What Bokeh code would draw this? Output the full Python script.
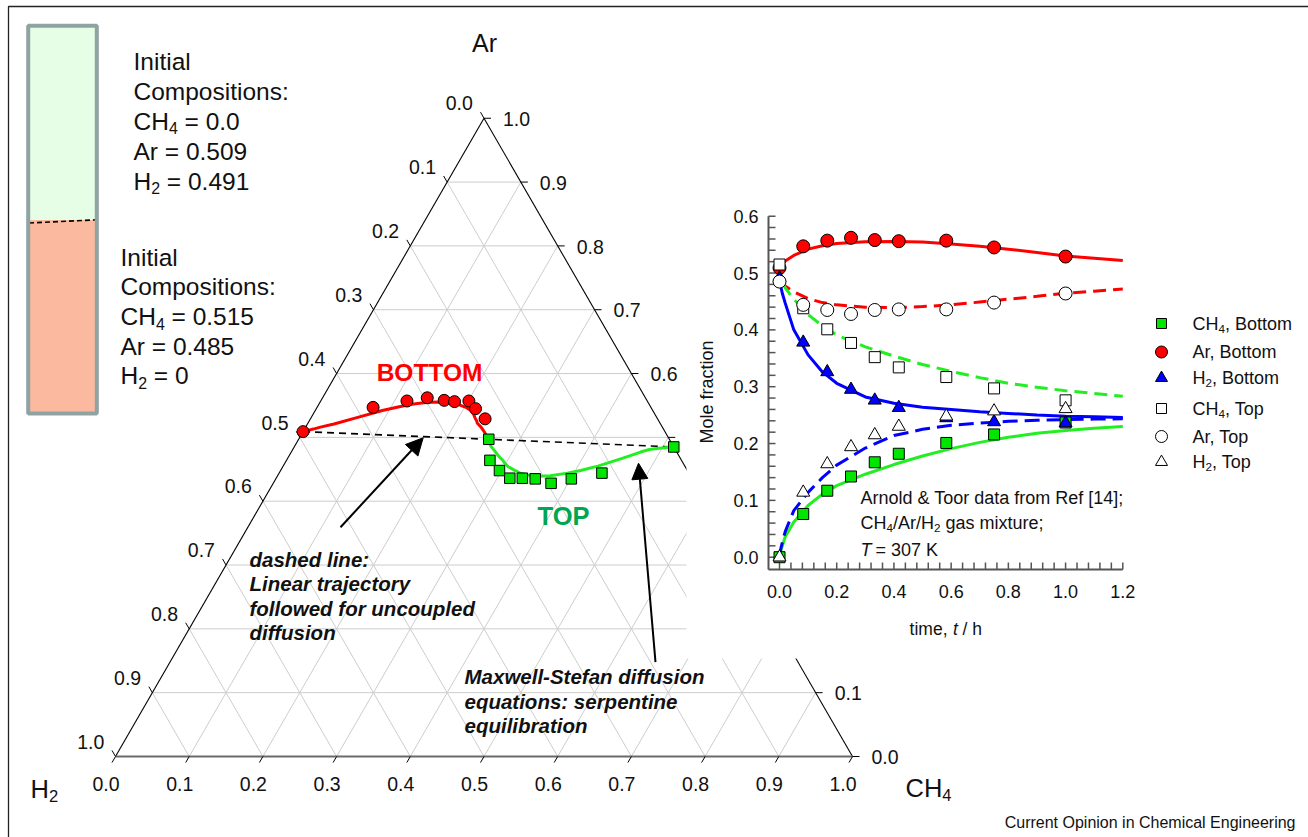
import numpy as np
from bokeh.plotting import figure
from bokeh.models import Range1d, Arrow, NormalHead
from bokeh.core.properties import value
from bokeh.embed import file_html
from bokeh.resources import INLINE

# ---------------- data ----------------
# measured compositions (inset markers; the same points are drawn in the ternary diagram)
T_DATA = [0.0, 0.083, 0.167, 0.25, 0.333, 0.417, 0.583, 0.75, 1.0]
CH4_BOTTOM = [0.0, 0.076, 0.117, 0.142, 0.167, 0.182, 0.201, 0.216, 0.237]
AR_BOTTOM = [0.509, 0.547, 0.557, 0.562, 0.558, 0.556, 0.557, 0.545, 0.529]
H2_BOTTOM = [0.491, 0.378, 0.326, 0.295, 0.276, 0.263, 0.245, 0.238, 0.236]
CH4_TOP = [0.515, 0.438, 0.401, 0.377, 0.352, 0.334, 0.317, 0.297, 0.276]
AR_TOP = [0.485, 0.444, 0.435, 0.428, 0.435, 0.436, 0.436, 0.448, 0.464]
H2_TOP = [0.0, 0.114, 0.164, 0.194, 0.215, 0.230, 0.248, 0.257, 0.261]

# Maxwell-Stefan model curves
T_MODEL = [0.0, 0.005, 0.01, 0.02, 0.05, 0.1, 0.15, 0.2, 0.3, 0.4, 0.5, 0.6, 0.7, 0.8, 0.9, 1.0, 1.1, 1.2]
CH4_BOTTOM_MODEL = [0.0, 0.012, 0.020, 0.036, 0.062, 0.091, 0.111, 0.126, 0.146, 0.163, 0.178, 0.191, 0.202, 0.211, 0.218, 0.223, 0.227, 0.230]
AR_BOTTOM_MODEL = [0.509, 0.513, 0.516, 0.521, 0.531, 0.542, 0.548, 0.552, 0.555, 0.5555, 0.5545, 0.551, 0.547, 0.542, 0.536, 0.530, 0.526, 0.522]
H2_BOTTOM_MODEL = [0.491, 0.475, 0.464, 0.447, 0.400, 0.356, 0.326, 0.306, 0.282, 0.271, 0.264, 0.260, 0.256, 0.253, 0.250, 0.248, 0.247, 0.246]
CH4_TOP_MODEL = [0.515, 0.496, 0.484, 0.474, 0.454, 0.427, 0.407, 0.391, 0.370, 0.354, 0.339, 0.327, 0.316, 0.306, 0.299, 0.293, 0.288, 0.283]
AR_TOP_MODEL = [0.485, 0.483, 0.481, 0.477, 0.467, 0.455, 0.448, 0.444, 0.440, 0.439, 0.441, 0.444, 0.449, 0.454, 0.459, 0.4645, 0.468, 0.472]
H2_TOP_MODEL = [0.0, 0.016, 0.026, 0.045, 0.082, 0.114, 0.140, 0.162, 0.192, 0.214, 0.225, 0.232, 0.236, 0.239, 0.241, 0.242, 0.243, 0.2435]

# long-time ends of the ternary trajectories, and the final equilibrium composition
BOTTOM_TAIL_CH4 = [0.238, 0.2465, 0.2525, 0.258]
BOTTOM_TAIL_AR = [0.516, 0.5083, 0.502, 0.497]
TOP_TAIL_CH4 = [0.276, 0.2666, 0.2615, 0.258]
TOP_TAIL_AR = [0.478, 0.4859, 0.492, 0.497]
EQ_CH4 = 0.258
EQ_AR = 0.497

TERN_TICKS = [0.0, 0.1, 0.2, 0.3, 0.4, 0.5, 0.6, 0.7, 0.8, 0.9, 1.0]
TERN_TICK_LABELS = ["0.0", "0.1", "0.2", "0.3", "0.4", "0.5", "0.6", "0.7", "0.8", "0.9", "1.0"]
INSET_X_TICKS = [0.0, 0.2, 0.4, 0.6, 0.8, 1.0, 1.2]
INSET_X_LABELS = ["0.0", "0.2", "0.4", "0.6", "0.8", "1.0", "1.2"]
INSET_Y_TICKS = [0.0, 0.1, 0.2, 0.3, 0.4, 0.5, 0.6]
INSET_Y_LABELS = ["0.0", "0.1", "0.2", "0.3", "0.4", "0.5", "0.6"]
# "_x" marks a subscript character
LEGEND_LABELS = ["CH_4, Bottom", "Ar, Bottom", "H_2, Bottom", "CH_4, Top", "Ar, Top", "H_2, Top"]
LEFT_TOP_LINES = ["Initial", "Compositions:", "CH_4 = 0.0", "Ar = 0.509", "H_2 = 0.491"]
LEFT_BOTTOM_LINES = ["Initial", "Compositions:", "CH_4 = 0.515", "Ar = 0.485", "H_2 = 0"]
VERTEX_LABELS = ["H_2", "Ar", "CH_4"]
NOTE_DASHED = ["dashed line:", "Linear trajectory", "followed for uncoupled", "diffusion"]
NOTE_MS = ["Maxwell-Stefan diffusion", "equations: serpentine", "equilibration"]
INSET_NOTE = ["Arnold & Toor data from Ref [14];", "CH_4/Ar/H_2 gas mixture;"]

# ---------------- geometry / styles ----------------
W, H = 1308, 837
TX0, TY0, TS = 115.0, 756.0, 737.0        # ternary H2 corner (px) and side length
IX0, ISX = 779.0, 286.08                   # inset: px of t=0, px per hour
IY0, ISY = 556.7, 568.33                   # inset: px of 0.0, px per unit
FONT = value("Liberation Sans")
RED, GREEN, BLUE = "#ff0000", "#00e600", "#0000ff"
INK = "#111111"
SQ3 = np.sqrt(3) / 2

# Arial / Liberation Sans advance widths (1/1000 em) for the rich-text helper
ADV = {" ": 278, ",": 278, ".": 278, "/": 278, ";": 278, ":": 278, "=": 584,
       "A": 667, "B": 667, "C": 722, "H": 722, "T": 611, "I": 278,
       "a": 556, "e": 556, "g": 556, "i": 222, "l": 222, "m": 833, "n": 556, "o": 556,
       "p": 556, "r": 333, "s": 500, "t": 278, "u": 556, "x": 500, "c": 500}
for d in "0123456789":
    ADV[d] = 556
SUB_SCALE, SUB_DROP = 0.65, 0.29


def tern(ch4, ar):
    ch4 = np.asarray(ch4, dtype=float)
    ar = np.asarray(ar, dtype=float)
    return ch4 + ar / 2.0, ar * SQ3


def split_sub(s):
    parts, buf, i = [], "", 0
    while i < len(s):
        if s[i] == "_" and i + 1 < len(s):
            if buf:
                parts.append((buf, False)); buf = ""
            parts.append((s[i + 1], True)); i += 2
        else:
            buf += s[i]; i += 1
    if buf:
        parts.append((buf, False))
    return parts


def width(s, size):
    return sum(ADV.get(ch, 556) for ch in s) * size / 1000.0


def rich_text(p, x, y, s, size, align="left", color=INK, **kw):
    parts = split_sub(s)
    if len(parts) == 1 and not parts[0][1]:
        p.text([x], [y], text=[s], text_font=FONT, text_font_size=f"{size}px", text_color=color,
               text_align=align, text_baseline="middle", **kw)
        return
    total = sum(width(t, size * SUB_SCALE if sub else size) for t, sub in parts)
    cx = x - (total if align == "right" else total / 2 if align == "center" else 0)
    for t, sub in parts:
        fs = size * SUB_SCALE if sub else size
        yy = y + SUB_DROP * size if sub else y
        lead = len(t) - len(t.lstrip(" "))
        cx += width(t[:lead], fs)          # leading blanks are dropped by SVG, so skip them
        body = t[lead:]
        if body:
            p.text([cx], [yy], text=[body], text_font=FONT, text_font_size=f"{fs:.2f}px", text_color=color,
                   text_align="left", text_baseline="middle", **kw)
        cx += width(body, fs)


p = figure(width=W, height=H, x_range=Range1d(0, W), y_range=Range1d(H, 0),
           output_backend="svg", toolbar_location=None, tools="",
           x_axis_type=None, y_axis_type=None, min_border=0)
p.outline_line_color = None
p.background_fill_color = "white"
p.border_fill_color = "white"
p.grid.visible = False
p.extra_x_ranges = {"tern": Range1d(-TX0 / TS, (W - TX0) / TS),
                    "ins": Range1d(-IX0 / ISX, (W - IX0) / ISX)}
p.extra_y_ranges = {"tern": Range1d(-(H - TY0) / TS, TY0 / TS),
                    "ins": Range1d(-(H - IY0) / ISY, IY0 / ISY)}
TR = dict(x_range_name="tern", y_range_name="tern")
IR = dict(x_range_name="ins", y_range_name="ins")

# ---------------- ternary diagram ----------------
levels = TERN_TICKS[1:-1]
gx, gy = [], []
for a in levels:                      # constant Ar
    x, y = tern([0, 1 - a], [a, a]); gx.append(list(x)); gy.append(list(y))
for c in levels:                      # constant CH4
    x, y = tern([c, c], [0, 1 - c]); gx.append(list(x)); gy.append(list(y))
for h in levels:                      # constant H2
    x, y = tern([0, 1 - h], [1 - h, 0]); gx.append(list(x)); gy.append(list(y))
p.multi_line(gx, gy, line_color="#cdcdcd", line_width=1, **TR)

x, y = tern([0, 0], [0, 1]); p.line(x, y, line_color="black", line_width=1.1, **TR)
x, y = tern([1, 0], [0, 1]); p.line(x, y, line_color="black", line_width=1.1, **TR)
x, y = tern([0, 1], [0, 0]); p.line(x, y, line_color="#6a6a6a", line_width=2, **TR)

L = 7.0 / TS
tk = np.asarray(TERN_TICKS)
lx, ly = tern(np.zeros_like(tk), 1 - tk)          # left edge: H2 values
rx, ry = tern(1 - tk, tk)                         # right edge: Ar values
bx, by = tern(tk, np.zeros_like(tk))              # bottom edge: CH4 values
p.segment(lx, ly, lx - 0.5 * L, ly + SQ3 * L, line_color="black", line_width=1, **TR)
p.segment(rx, ry, rx + L, ry, line_color="black", line_width=1, **TR)
p.segment(bx, by, bx - 0.5 * L, by - SQ3 * L, line_color="black", line_width=1, **TR)
tick_font = dict(text_font=FONT, text_font_size="19.5px", text_color=INK, text_baseline="middle")
p.text(lx - 24.7 / TS, ly + 14.8 / TS, text=TERN_TICK_LABELS, text_align="center", **tick_font, **TR)
p.text(rx + 19.0 / TS, ry - 0.7 / TS, text=TERN_TICK_LABELS, text_align="left", **tick_font, **TR)
p.text(bx - 9.5 / TS, by - 27.7 / TS, text=TERN_TICK_LABELS, text_align="center", **tick_font, **TR)

# straight (uncoupled) trajectory between the two initial compositions
x, y = tern([CH4_BOTTOM[0], CH4_TOP[0]], [AR_BOTTOM[0], AR_TOP[0]])
p.line(x, y, line_color="black", line_width=1.6, line_dash="7 5", **TR)

x, y = tern(CH4_BOTTOM_MODEL + BOTTOM_TAIL_CH4, AR_BOTTOM_MODEL + BOTTOM_TAIL_AR)
p.line(x, y, line_color=RED, line_width=3, **TR)
x, y = tern(CH4_TOP_MODEL + TOP_TAIL_CH4, AR_TOP_MODEL + TOP_TAIL_AR)
p.line(x, y, line_color="#22ee22", line_width=3, **TR)
x, y = tern(CH4_BOTTOM, AR_BOTTOM)
p.scatter(x, y, marker="circle", size=12, fill_color=RED, line_color="black", line_width=1, **TR)
x, y = tern(CH4_TOP + [EQ_CH4], AR_TOP + [EQ_AR])
p.scatter(x, y, marker="square", size=10.5, fill_color=GREEN, line_color="black", line_width=1, **TR)

p.text([429], [372], text=["BOTTOM"], text_font=FONT, text_font_size="24.5px", text_font_style="bold",
       text_color="#ff0000", text_align="center", text_baseline="middle")
p.text([563], [515], text=["TOP"], text_font=FONT, text_font_size="25.5px", text_font_style="bold",
       text_color="#00a651", text_align="center", text_baseline="middle")

rich_text(p, 30, 788, VERTEX_LABELS[0], 25.5)
rich_text(p, 484, 42, VERTEX_LABELS[1], 25, align="center")
rich_text(p, 905, 787, VERTEX_LABELS[2], 25.5)

note_font = dict(text_font=FONT, text_font_size="20.5px", text_font_style="bold italic",
                 text_color=INK, text_align="left", text_baseline="middle")
p.text([249] * len(NOTE_DASHED), [559 + 24.4 * i for i in range(len(NOTE_DASHED))], text=NOTE_DASHED, **note_font)
p.text([464] * len(NOTE_MS), [676 + 24.5 * i for i in range(len(NOTE_MS))], text=NOTE_MS, **note_font)

p.add_layout(Arrow(end=NormalHead(size=17, fill_color="black", line_color="black"),
                   x_start=340, y_start=526.7, x_end=422.7, y_end=437.3,
                   line_color="black", line_width=2))
p.add_layout(Arrow(end=NormalHead(size=16, fill_color="black", line_color="black"),
                   x_start=655, y_start=661.7, x_end=638, y_end=462.7,
                   line_color="black", line_width=2))

# ---------------- inset (white panel over the ternary corner) ----------------
p.quad(left=[686], right=[W], top=[190], bottom=[658], fill_color="white", line_color=None)

AXX = (768 - IX0) / ISX
AXY = (IY0 - 569) / ISY
p.line([AXX, AXX], [AXY, INSET_Y_TICKS[-1]], line_color="#555555", line_width=2, **IR)
p.line([AXX, INSET_X_TICKS[-1]], [AXY, AXY], line_color="#555555", line_width=2, **IR)
ys = np.linspace(INSET_Y_TICKS[0], INSET_Y_TICKS[-1], 5 * (len(INSET_Y_TICKS) - 1) + 1)
xs = np.linspace(INSET_X_TICKS[0], INSET_X_TICKS[-1], 5 * (len(INSET_X_TICKS) - 1) + 1)
p.segment(AXX, ys, AXX + 7 / ISX, ys, line_color="#555555", line_width=1.5, **IR)
p.segment(xs, AXY, xs, AXY + 7 / ISY, line_color="#555555", line_width=1.5, **IR)
p.text([AXX - 10 / ISX] * len(INSET_Y_TICKS), INSET_Y_TICKS, text=INSET_Y_LABELS, text_font=FONT,
       text_font_size="18px", text_color=INK, text_align="right", text_baseline="middle", **IR)
p.text(INSET_X_TICKS, [AXY - 22 / ISY] * len(INSET_X_TICKS), text=INSET_X_LABELS, text_font=FONT,
       text_font_size="18px", text_color=INK, text_align="center", text_baseline="middle", **IR)

p.text([706], [391.5], text=["Mole fraction"], angle=np.pi / 2, text_font=FONT, text_font_size="18px",
       text_color=INK, text_align="center", text_baseline="middle")
lab = dict(text_font=FONT, text_font_size="17.5px", text_color=INK, text_baseline="middle")
p.text([947], [628], text=["time,"], text_align="right", **lab)
p.text([955], [628], text=["t"], text_align="center", text_font_style="italic", **lab)
p.text([962], [628], text=["/ h"], text_align="left", **lab)

dash = "13 7"
p.line(T_MODEL, AR_BOTTOM_MODEL, line_color=RED, line_width=3, **IR)
p.line(T_MODEL, AR_TOP_MODEL, line_color=RED, line_width=3, line_dash=dash, **IR)
p.line(T_MODEL, CH4_TOP_MODEL, line_color="#22ee22", line_width=3, line_dash=dash, **IR)
p.line(T_MODEL, CH4_BOTTOM_MODEL, line_color="#22ee22", line_width=3, **IR)
p.line(T_MODEL, H2_BOTTOM_MODEL, line_color=BLUE, line_width=3, **IR)
p.line(T_MODEL, H2_TOP_MODEL, line_color=BLUE, line_width=3, line_dash="15 7", **IR)

p.scatter(T_DATA, CH4_BOTTOM, marker="square", size=11, fill_color=GREEN, line_color="black", **IR)
p.scatter(T_DATA, AR_BOTTOM, marker="circle", size=13, fill_color=RED, line_color="black", **IR)
p.scatter(T_DATA, H2_BOTTOM, marker="triangle", size=13, fill_color=BLUE, line_color="black", **IR)
p.scatter(T_DATA, CH4_TOP, marker="square", size=11, fill_color="white", line_color="black", **IR)
p.scatter(T_DATA, AR_TOP, marker="circle", size=13, fill_color="white", line_color="black", **IR)
p.scatter(T_DATA, H2_TOP, marker="triangle", size=13, fill_color="white", line_color="black", **IR)

rich_text(p, 860, 497, INSET_NOTE[0], 18)
rich_text(p, 860, 522.5, INSET_NOTE[1], 18)
p.text([860], [549.5], text=["T"], text_font_style="italic", text_font=FONT, text_font_size="18px",
       text_color=INK, text_align="left", text_baseline="middle")
p.text([875], [549.5], text=["= 307 K"], text_font=FONT, text_font_size="18px",
       text_color=INK, text_align="left", text_baseline="middle")

# legend
LEG_Y = [323, 351.5, 377.5, 408, 436, 461.5]
LEG_MARK = ["square", "circle", "triangle", "square", "circle", "triangle"]
LEG_FILL = [GREEN, RED, BLUE, "white", "white", "white"]
LEG_SIZE = [10, 12, 12, 10, 12, 12]
for yy, mk, fc, sz, lbl in zip(LEG_Y, LEG_MARK, LEG_FILL, LEG_SIZE, LEGEND_LABELS):
    p.scatter([1161], [yy], marker=mk, size=sz, fill_color=fc, line_color="black")
    rich_text(p, 1192, yy, lbl, 18)

# ---------------- left column (two compartments) ----------------
p.quad(left=[27.7], right=[96.3], top=[25.3], bottom=[219.5], fill_color="#e6fde6", line_color=None)
p.quad(left=[27.7], right=[96.3], top=[219.5], bottom=[413], fill_color="#fbb9a0", line_color=None)
p.line([28.5, 96], [222.5, 219.3], line_color="black", line_width=1.6, line_dash="5 3")
p.quad(left=[27.7], right=[96.3], top=[25.3], bottom=[413], fill_color=None, line_color="#8fa3a3", line_width=4)
for i, s in enumerate(LEFT_TOP_LINES):
    rich_text(p, 133, 60.5 + 30.0 * i, s, 24.5)
for i, s in enumerate(LEFT_BOTTOM_LINES):
    rich_text(p, 120, 256.7 + 29.6 * i, s, 24.5)

# frame and credit
p.line([8, 8, W], [H, 6, 6], line_color="#222222", line_width=1.3)
p.text([1295], [822], text=["Current Opinion in Chemical Engineering"], text_font=FONT, text_font_size="16px",
       text_color=INK, text_align="right", text_baseline="middle")

open("out.html", "w").write(file_html(p, INLINE))
